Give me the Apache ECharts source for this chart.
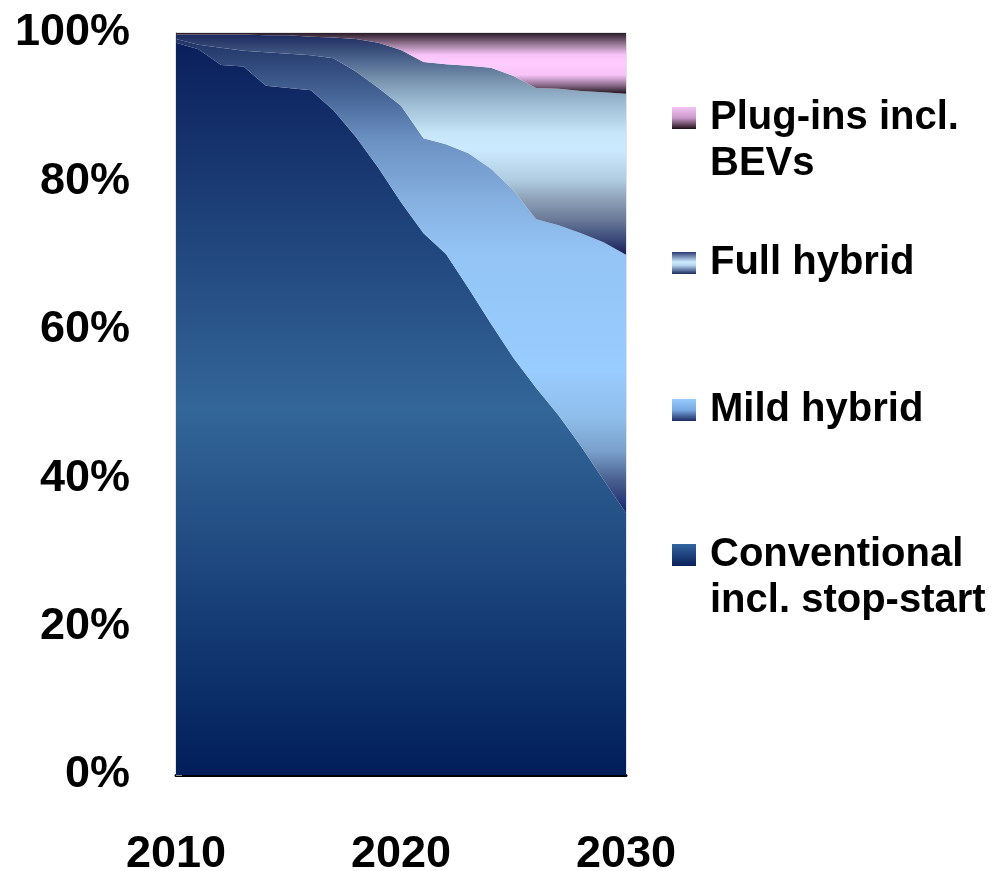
<!DOCTYPE html>
<html>
<head>
<meta charset="utf-8">
<script src="https://cdn.jsdelivr.net/npm/echarts@6/dist/echarts.min.js"></script>
<style>
  html, body { margin: 0; padding: 0; background: #ffffff; }
  #chart { width: 993px; height: 871px; }
</style>
</head>
<body>
<div id="chart"></div>
<script>
// Powertrain share of new vehicle sales, 2010-2030 (percent, stacked to 100)
const years = ['2010','2011','2012','2013','2014','2015','2016','2017','2018','2019','2020',
               '2021','2022','2023','2024','2025','2026','2027','2028','2029','2030'];

const conventional = [98.7, 97.8, 95.7, 95.5, 92.9, 92.6, 92.3, 89.6, 86.0, 81.8, 77.2,
                      73.0, 70.2, 65.6, 60.8, 56.2, 52.2, 48.5, 44.3, 39.8, 35.3];
const mildHybrid   = [0.5, 0.6, 2.3, 2.1, 4.5, 4.6, 4.7, 7.0, 8.8, 10.8, 13.0,
                      12.8, 14.8, 18.2, 20.9, 22.6, 22.7, 25.6, 28.7, 32.0, 34.8];
const fullHybrid   = [0.6, 1.4, 1.8, 2.2, 2.3, 2.5, 2.5, 2.8, 4.4, 6.1, 7.5,
                      10.3, 10.8, 11.8, 13.6, 15.4, 17.7, 18.4, 19.2, 20.2, 21.7];
const plugIns      = [0.2, 0.2, 0.2, 0.2, 0.3, 0.3, 0.5, 0.6, 0.8, 1.3, 2.3,
                      3.9, 4.2, 4.4, 4.7, 5.8, 7.4, 7.5, 7.8, 8.0, 8.2];

const seriesNames = ['Conventional incl. stop-start', 'Mild hybrid', 'Full hybrid', 'Plug-ins incl. BEVs'];
// two-line entries get a leading blank line so the swatch sits beside the first line
const legendLabels = {
  'Plug-ins incl. BEVs': ' \nPlug-ins incl.\nBEVs',
  'Full hybrid': 'Full hybrid',
  'Mild hybrid': 'Mild hybrid',
  'Conventional incl. stop-start': ' \nConventional\nincl. stop-start'
};

const FONT = '"Liberation Sans", Arial, Helvetica, sans-serif';

function vGrad(stops) {
  return {
    type: 'linear', x: 0, y: 0, x2: 0, y2: 1,
    colorStops: stops.map(s => ({ offset: s[0], color: s[1] }))
  };
}

// area fills (vertical gradients across each band)
const areaFill = {
  'Conventional incl. stop-start': vGrad([[0, '#0a1f5c'], [0.5, '#336699'], [1, '#001e5a']]),
  'Mild hybrid': vGrad([[0, '#1f3265'], [0.13, '#4a6a9c'], [0.21, '#6a90c0'], [0.34, '#85b0e0'],
                        [0.45, '#93c4f5'], [0.7, '#99ccff'], [0.8, '#8ebde9'], [0.87, '#7aa0cc'],
                        [0.93, '#4a6090'], [1, '#15256a']]),
  'Full hybrid': vGrad([[0, '#1c2a5e'], [0.12, '#4f6890'], [0.21, '#7a94b0'], [0.3, '#9ab8d0'],
                        [0.45, '#c8e6f8'], [0.52, '#cceaff'], [0.66, '#b0cce0'], [0.75, '#8da0b8'],
                        [0.84, '#6a7a98'], [0.93, '#3a4878'], [1, '#161c58']]),
  'Plug-ins incl. BEVs': vGrad([[0, '#2a1c28'], [0.2, '#a080a0'], [0.36, '#f8c4f8'], [0.5, '#ffccff'],
                                [0.69, '#f8c4f8'], [0.85, '#907090'], [1, '#1e1018']])
};

// legend swatches
const swatchFill = {
  'Plug-ins incl. BEVs': vGrad([[0, '#f4c4f4'], [0.5, '#c898c8'], [1, '#201018']]),
  'Full hybrid': vGrad([[0, '#2a3a70'], [0.45, '#cceaff'], [0.6, '#b8d8f0'], [1, '#1a2a60']]),
  'Mild hybrid': vGrad([[0, '#99ccff'], [0.5, '#7aa8e0'], [1, '#1a2a64']]),
  'Conventional incl. stop-start': vGrad([[0, '#3366a0'], [1, '#0a1f5a']])
};

const seriesData = {
  'Conventional incl. stop-start': conventional,
  'Mild hybrid': mildHybrid,
  'Full hybrid': fullHybrid,
  'Plug-ins incl. BEVs': plugIns
};

function legendFor(name, top) {
  return {
    data: [{ name: name, itemStyle: { color: swatchFill[name] } }],
    left: 672,
    top: top,
    orient: 'vertical',
    padding: 0,
    icon: 'rect',
    itemWidth: 24,
    itemHeight: 22,
    selectedMode: false,
    formatter: n => legendLabels[n],
    textStyle: {
      fontFamily: FONT,
      fontWeight: 'bold',
      fontSize: 40,
      color: '#000000',
      lineHeight: 46,
      padding: [0, 0, 0, 9]
    }
  };
}

const chart = echarts.init(document.getElementById('chart'), null, { renderer: 'canvas' });

chart.setOption({
  animation: false,
  backgroundColor: '#ffffff',
  grid: {
    left: 176, top: 33, width: 450, height: 742,
    containLabel: false,
    outerBoundsMode: 'none',
    show: true, borderColor: '#c8c8c8', borderWidth: 1, backgroundColor: 'transparent'
  },
  legend: [
    legendFor('Plug-ins incl. BEVs', 49),
    legendFor('Full hybrid', 240),
    legendFor('Mild hybrid', 387),
    legendFor('Conventional incl. stop-start', 486)
  ],
  xAxis: {
    type: 'category',
    boundaryGap: false,
    data: years,
    axisLine: { show: true, lineStyle: { color: '#000000', width: 3 } },
    axisTick: { show: false },
    axisLabel: {
      interval: 9,
      margin: 57,
      fontFamily: FONT,
      fontWeight: 'bold',
      fontSize: 45,
      color: '#000000'
    },
    splitLine: { show: false }
  },
  yAxis: {
    type: 'value',
    min: 0,
    max: 100,
    interval: 20,
    axisLine: { show: true, lineStyle: { color: '#858585', width: 1 } },
    axisTick: { show: true, inside: true, length: 6, lineStyle: { color: '#8c8c8c' } },
    axisLabel: {
      formatter: '{value}%',
      margin: 46,
      fontFamily: FONT,
      fontWeight: 'bold',
      fontSize: 45,
      color: '#000000'
    },
    splitLine: { show: false }
  },
  series: seriesNames.map((name, i) => ({
    name: name,
    type: 'line',
    stack: 'share',
    data: seriesData[name],
    symbol: 'none',
    smooth: false,
    lineStyle: { width: 0 },
    areaStyle: { color: areaFill[name], opacity: 1 },
    emphasis: { disabled: true },
    z: 2 + i
  }))
});
</script>
</body>
</html>
